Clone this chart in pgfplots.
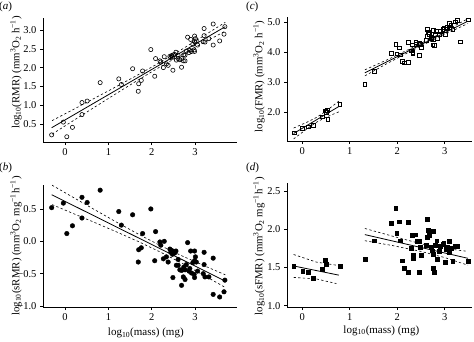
\documentclass[border=0pt]{standalone}
\usepackage{fontspec}
\setmainfont{Liberation Serif}
\usepackage{pgfplots}
\pgfplotsset{compat=1.18}
\pgfplotsset{
  myax/.style={
    scale only axis,
    axis x line*=bottom, axis y line*=left,
    axis line style={line width=0.6pt,-},
    tick align=outside,
    major tick length=3pt,
    tick style={line width=0.6pt,black},
    xtick={0,1,2,3},
    /pgf/number format/assume math mode=true,
    tick label style={font=\fontsize{10.5}{12}\selectfont},
    ylabel style={font=\fontsize{10.8}{12}\selectfont},
    xlabel style={font=\fontsize{11}{12}\selectfont},
    yticklabel style={/pgf/number format/fixed,/pgf/number format/fixed zerofill,/pgf/number format/precision=1},
    clip=false,
  },
  fitl/.style={black,line width=0.8pt,no marks},
  cil/.style={black,line width=0.6pt,no marks,dash pattern=on 2.3pt off 2.3pt},
}
\begin{document}
\begin{tikzpicture}
\path[use as bounding box] (0,0) rectangle (474pt,-341pt);
% ---------------- (a)
\begin{axis}[myax, at={(43pt,-142pt)}, anchor=south west, width=194pt, height=124pt,
  xmin=-0.51, xmax=3.97, ymin=0.02, ymax=3.32,
  ytick={0.5,1.0,1.5,2.0,2.5,3.0},
  ylabel={log\textsubscript{10}(RMR) (mm\textsuperscript{3}O\textsubscript{2} h\textsuperscript{−1})},
  ylabel style={at={(axis description cs:-0.139,0.56)},anchor=center}]
\addplot[only marks, mark=o, mark size=2.1pt, mark options={line width=0.6pt}] coordinates {
(-0.31,0.21) (-0.04,0.55) (0.04,0.16) (0.17,0.41) (0.39,1.07) (0.39,0.75) (0.51,1.11) (0.81,1.60)
(1.24,1.70) (1.30,1.55) (1.56,1.97) (1.69,1.37) (1.70,1.57) (1.76,1.66) (1.79,1.91) (1.98,2.48)
(2.07,1.77) (2.09,2.24) (2.19,2.18) (2.21,2.15) (2.27,2.00) (2.29,2.29) (2.34,2.10) (2.38,2.06)
(2.42,2.30) (2.44,2.27) (2.46,2.32) (2.48,2.28) (2.50,2.34) (2.49,1.93) (2.53,2.35) (2.56,2.41)
(2.57,2.20) (2.61,2.24) (2.65,2.21) (2.69,2.24) (2.69,2.01) (2.73,2.18) (2.77,2.33) (2.77,2.18)
(2.80,2.44) (2.83,2.81) (2.88,2.46) (2.90,2.75) (2.92,2.43) (2.95,2.62) (2.98,2.47) (2.99,2.84)
(2.99,2.69) (2.99,2.43) (3.01,2.77) (3.03,2.71) (3.19,2.69) (3.21,3.04) (3.21,2.85) (3.23,2.68)
(3.32,2.77) (3.42,3.16) (3.42,2.60) (3.57,2.71) (3.67,2.89) (3.69,3.09) (2.61,2.33) (2.74,2.34)
(2.86,2.40) (3.06,2.60)};
\addplot[fitl] coordinates {(-0.31,0.40) (3.70,3.09)};
\addplot[cil] coordinates {(-0.3,0.589) (0.2,0.892) (0.7,1.197) (1.2,1.505) (1.7,1.818) (2.2,2.144) (2.7,2.488) (3.2,2.845) (3.7,3.207)};
\addplot[cil] coordinates {(-0.3,0.229) (0.2,0.596) (0.7,0.961) (1.2,1.323) (1.7,1.680) (2.2,2.024) (2.7,2.350) (3.2,2.663) (3.7,2.971)};
\end{axis}
% ---------------- (b)
\begin{axis}[myax, at={(43pt,-307pt)}, anchor=south west, width=194pt, height=122pt,
  xmin=-0.51, xmax=3.97, ymin=-1.015, ymax=0.87,
  ytick={-1.0,-0.5,0.0,0.5}, yticklabels={−1.0,−0.5,0.0,0.5},
  ylabel={log\textsubscript{10}(sRMR) (mm\textsuperscript{3}O\textsubscript{2} mg\textsuperscript{−1}h\textsuperscript{−1})},
  ylabel style={at={(axis description cs:-0.139,0.5)},anchor=center},
  xlabel={log\textsubscript{10}(mass) (mg)},
  xlabel style={at={(axis description cs:0.53,-0.215)},anchor=center}]
\addplot[only marks, mark=*, mark size=2.3pt] coordinates {
(-0.31,0.52) (-0.04,0.59) (0.04,0.12) (0.17,0.24) (0.39,0.68) (0.39,0.36) (0.51,0.60) (0.81,0.79)
(1.24,0.46) (1.30,0.25) (1.56,0.41) (1.69,-0.32) (1.70,-0.13) (1.76,-0.10) (1.79,0.12) (1.98,0.50)
(2.07,-0.30) (2.09,0.15) (2.19,-0.01) (2.21,-0.06) (2.27,-0.27) (2.29,0.00) (2.34,-0.24) (2.38,-0.32)
(2.42,-0.12) (2.44,-0.17) (2.46,-0.14) (2.48,-0.20) (2.50,-0.16) (2.49,-0.56) (2.53,-0.18) (2.56,-0.15)
(2.57,-0.37) (2.61,-0.37) (2.65,-0.44) (2.69,-0.45) (2.69,-0.68) (2.73,-0.55) (2.77,-0.44) (2.77,-0.59)
(2.80,-0.36) (2.83,-0.02) (2.88,-0.42) (2.90,-0.15) (2.92,-0.49) (2.95,-0.33) (2.98,-0.51) (2.99,-0.15)
(2.99,-0.30) (2.99,-0.56) (3.01,-0.24) (3.03,-0.32) (3.19,-0.50) (3.21,-0.17) (3.21,-0.36) (3.23,-0.55)
(3.32,-0.55) (3.42,-0.26) (3.42,-0.82) (3.57,-0.86) (3.67,-0.78) (3.69,-0.60) (2.61,-0.28) (2.74,-0.40)
(2.86,-0.46) (3.06,-0.46)};
\addplot[fitl] coordinates {(-0.31,0.72) (3.70,-0.615)};
\addplot[cil] coordinates {(-0.3,0.867) (0.2,0.674) (0.7,0.482) (1.2,0.292) (1.7,0.108) (2.2,-0.066) (2.7,-0.225) (3.2,-0.374) (3.7,-0.517)};
\addplot[cil] coordinates {(-0.3,0.567) (0.2,0.426) (0.7,0.286) (1.2,0.142) (1.7,-0.006) (2.2,-0.166) (2.7,-0.339) (3.2,-0.524) (3.7,-0.713)};
\end{axis}
% ---------------- (c)
\begin{axis}[myax, at={(287pt,-141pt)}, anchor=south west, width=185pt, height=124pt,
  xmin=-0.32, xmax=3.575, ymin=1.05, ymax=5.16,
  ytick={2,3,4,5},
  ylabel={log\textsubscript{10}(FMR) (mm\textsuperscript{3}O\textsubscript{2} h\textsuperscript{−1})},
  ylabel style={at={(axis description cs:-0.151,0.52)},anchor=center}]
\addplot[only marks, mark=square, mark size=1.9pt, mark options={line width=0.6pt}] coordinates {
(-0.16,1.32) (0.01,1.47) (0.12,1.52) (0.24,1.56) (0.42,1.85) (0.49,2.05) (0.52,2.08) (0.54,1.78)
(0.79,2.27) (0.50,2.00)
(1.32,2.93) (1.51,3.36) (1.88,3.96) (1.97,4.25) (1.99,3.94) (2.04,4.14) (2.06,3.91) (2.10,3.69)
(2.15,3.64) (2.23,3.67) (2.24,4.33) (2.29,4.04) (2.32,4.24) (2.33,3.99) (2.33,3.95) (2.39,4.32)
(2.41,4.25) (2.46,4.30) (2.46,3.90) (2.49,4.26) (2.50,4.16) (2.61,4.40) (2.63,4.76) (2.63,4.53)
(2.65,4.64) (2.68,4.60) (2.71,4.48) (2.73,4.45) (2.76,4.73) (2.76,4.43) (2.75,4.24) (2.78,4.22)
(2.80,4.59) (2.83,4.68) (2.85,4.46) (2.89,4.60) (2.91,4.69) (2.96,4.76) (2.98,4.80) (3.01,4.58)
(3.03,4.77) (3.06,4.83) (3.10,4.80) (3.13,4.88) (3.17,4.75) (3.22,5.00) (3.27,5.05) (3.49,5.07)
(3.10,4.94) (3.33,4.34)};
\addplot[fitl] coordinates {(-0.18,1.30) (0.78,2.202)};
\addplot[cil] coordinates {(-0.18,1.48) (0.1,1.673) (0.3,1.831) (0.5,2.039) (0.78,2.382)};
\addplot[cil] coordinates {(-0.18,1.12) (0.1,1.453) (0.3,1.671) (0.5,1.839) (0.78,2.022)};
\addplot[fitl] coordinates {(1.32,3.31) (3.49,5.024)};
\addplot[cil] coordinates {(1.32,3.41) (1.8,3.749) (2.3,4.129) (2.8,4.524) (3.49,5.104)};
\addplot[cil] coordinates {(1.32,3.21) (1.8,3.629) (2.3,4.039) (2.8,4.434) (3.49,4.944)};
\end{axis}
% ---------------- (d)
\begin{axis}[myax, at={(287pt,-307pt)}, anchor=south west, width=185pt, height=124pt,
  xmin=-0.32, xmax=3.575, ymin=0.983, ymax=2.605,
  ytick={1.0,1.5,2.0,2.5},
  ylabel={log\textsubscript{10}(sFMR) (mm\textsuperscript{3}O\textsubscript{2} mg\textsuperscript{−1}h\textsuperscript{−1})},
  ylabel style={at={(axis description cs:-0.151,0.49)},anchor=center},
  xlabel={log\textsubscript{10}(mass) (mg)},
  xlabel style={at={(axis description cs:0.51,-0.19)},anchor=center}]
\addplot[only marks, mark=square*, mark size=1.9pt] coordinates {
(-0.18,1.52) (0.01,1.45) (0.12,1.44) (0.23,1.36) (0.42,1.48) (0.49,1.60) (0.51,1.54) (0.80,1.52)
(1.32,1.61) (1.51,1.85) (1.88,2.08) (1.97,2.28) (1.99,1.95) (2.04,2.10) (2.06,1.85) (2.10,1.59)
(2.15,1.49) (2.23,1.44) (2.24,2.09) (2.29,1.75) (2.32,1.92) (2.33,1.66) (2.33,1.62) (2.39,1.93)
(2.41,1.84) (2.46,1.84) (2.46,1.44) (2.49,1.77) (2.50,1.66) (2.61,1.79) (2.63,2.13) (2.63,1.90)
(2.65,1.99) (2.68,1.92) (2.71,1.77) (2.73,1.72) (2.76,1.97) (2.76,1.67) (2.75,1.49) (2.78,1.44)
(2.80,1.79) (2.83,1.85) (2.85,1.61) (2.89,1.71) (2.91,1.78) (2.96,1.80) (2.98,1.82) (3.01,1.57)
(3.03,1.74) (3.06,1.77) (3.10,1.70) (3.13,1.75) (3.17,1.58) (3.22,1.78) (3.27,1.78) (3.49,1.58)
(3.10,1.84)};
\addplot[fitl] coordinates {(-0.18,1.52) (0.77,1.40)};
\addplot[cil] coordinates {(-0.18,1.67) (0.3,1.57) (0.72,1.53)};
\addplot[cil] coordinates {(-0.18,1.37) (0.3,1.35) (0.72,1.29)};
\addplot[fitl] coordinates {(1.32,1.93) (3.49,1.62)};
\addplot[cil] coordinates {(1.32,2.01) (1.9,1.91) (2.5,1.81) (3.0,1.75) (3.49,1.71)};
\addplot[cil] coordinates {(1.32,1.85) (1.9,1.787) (2.5,1.71) (3.0,1.63) (3.49,1.53)};
\end{axis}
% panel labels
\node[anchor=base west, inner sep=0pt, font=\fontsize{11}{12}\selectfont] at (-1pt,-9pt) {(\textit{a})};
\node[anchor=base west, inner sep=0pt, font=\fontsize{11}{12}\selectfont] at (-1pt,-170pt) {(\textit{b})};
\node[anchor=base west, inner sep=0pt, font=\fontsize{11}{12}\selectfont] at (246pt,-9pt) {(\textit{c})};
\node[anchor=base west, inner sep=0pt, font=\fontsize{11}{12}\selectfont] at (246pt,-170pt) {(\textit{d})};
\end{tikzpicture}
\end{document}
